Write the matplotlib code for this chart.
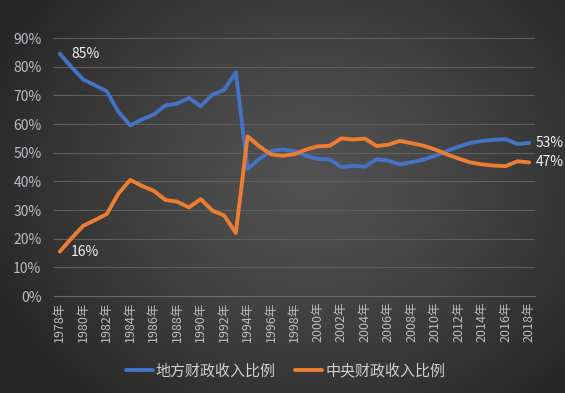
import numpy as np
import matplotlib
matplotlib.use("Agg")
import matplotlib.pyplot as plt
from matplotlib.ticker import PercentFormatter

plt.rcParams['font.family'] = ['Noto Sans CJK SC', 'DejaVu Sans']

years = list(range(1978, 2019))
central = [15.5, 20.2, 24.5, 26.5, 28.6, 35.8, 40.5, 38.4, 36.7, 33.5,
           32.9, 30.9, 33.8, 29.8, 28.1, 22.0, 55.7, 52.2, 49.4, 48.9,
           49.5, 51.1, 52.2, 52.4, 55.0, 54.6, 54.9, 52.3, 52.8, 54.1,
           53.3, 52.4, 51.1, 49.4, 47.9, 46.6, 45.9, 45.5, 45.3, 47.0, 46.6]
local = [84.5, 79.8, 75.5, 73.5, 71.4, 64.2, 59.5, 61.6, 63.3, 66.5,
         67.1, 69.1, 66.2, 70.2, 71.9, 78.0, 44.3, 47.8, 50.6, 51.1,
         50.5, 48.9, 47.8, 47.6, 45.0, 45.4, 45.1, 47.7, 47.2, 45.9,
         46.7, 47.6, 48.9, 50.6, 52.1, 53.4, 54.1, 54.5, 54.7, 53.0, 53.4]
series_names = ['地方财政收入比例', '中央财政收入比例']
tick_years = years[::2]
tick_labels = [f'{y}年' for y in tick_years]


def pct(v):
    return f'{int(v + 0.5)}%'


W, H = 565, 393
fig = plt.figure(figsize=(W / 100, H / 100), dpi=100)

# radial gradient background
bg = fig.add_axes([0, 0, 1, 1], zorder=-10)
yy, xx = np.mgrid[0:H, 0:W]
cx, cy = W * 0.55, H * 0.45
r = np.sqrt(((xx - cx) / (W * 0.62)) ** 2 + ((yy - cy) / (H * 0.75)) ** 2)
r = np.clip(r, 0, 1)
inner, outer = 0x52, 0x26
val = (inner + (outer - inner) * r ** 1.3) / 255.0
img = np.dstack([val, val, val])
bg.imshow(img, aspect='auto', extent=[0, 1, 0, 1])
bg.axis('off')

left, right = 54 / W, 535 / W
top, bottom = 1 - 38 / H, 1 - 296 / H
ax = fig.add_axes([left, bottom, right - left, top - bottom])
ax.set_facecolor('none')

blue = '#4472C4'
orange = '#ED7D31'
l1, = ax.plot(years, local, color=blue, lw=2.8, solid_capstyle='round', solid_joinstyle='round', label=series_names[0], zorder=3)
l2, = ax.plot(years, central, color=orange, lw=2.8, solid_capstyle='round', solid_joinstyle='round', label=series_names[1], zorder=3)

ax.set_xlim(1977.5, 2018.5)
ax.set_ylim(0, 90)
ax.set_yticks(range(0, 91, 10))
ax.yaxis.set_major_formatter(PercentFormatter(decimals=0))
ax.set_xticks(tick_years)
ax.set_xticklabels(tick_labels, rotation=90, fontsize=9, color='#b8bec4')
ax.tick_params(axis='y', labelsize=10, labelcolor='#b8bec4', length=0, pad=9)
ax.tick_params(axis='x', length=0, pad=4)
ax.grid(axis='y', color='#5e5e5e', lw=0.8)
for s in ['top', 'right', 'left']:
    ax.spines[s].set_visible(False)
ax.spines['bottom'].set_color('#6a6a6a')
ax.set_axisbelow(True)

lab_kw = dict(color='#f0f0f0', fontsize=10, textcoords='offset points')
ax.annotate(pct(local[0]), (years[0], local[0]), xytext=(8, 0), va='center', ha='left', **lab_kw)
ax.annotate(pct(central[0]), (years[0], central[0]), xytext=(8, 0), va='center', ha='left', **lab_kw)
ax.annotate(pct(local[-1]), (years[-1], local[-1]), xytext=(5, 0), va='center', ha='left', **lab_kw)
ax.annotate(pct(central[-1]), (years[-1], central[-1]), xytext=(5, 0), va='center', ha='left', **lab_kw)

leg = fig.legend(handles=[l1, l2], loc='center', bbox_to_anchor=(0.505, 1 - 371 / H), ncol=2,
                 frameon=False, fontsize=10.8, handlelength=1.8, columnspacing=1.3, handletextpad=0.2)
for t in leg.get_texts():
    t.set_color('#d0d0d0')

fig.savefig('out.png', dpi=100)
